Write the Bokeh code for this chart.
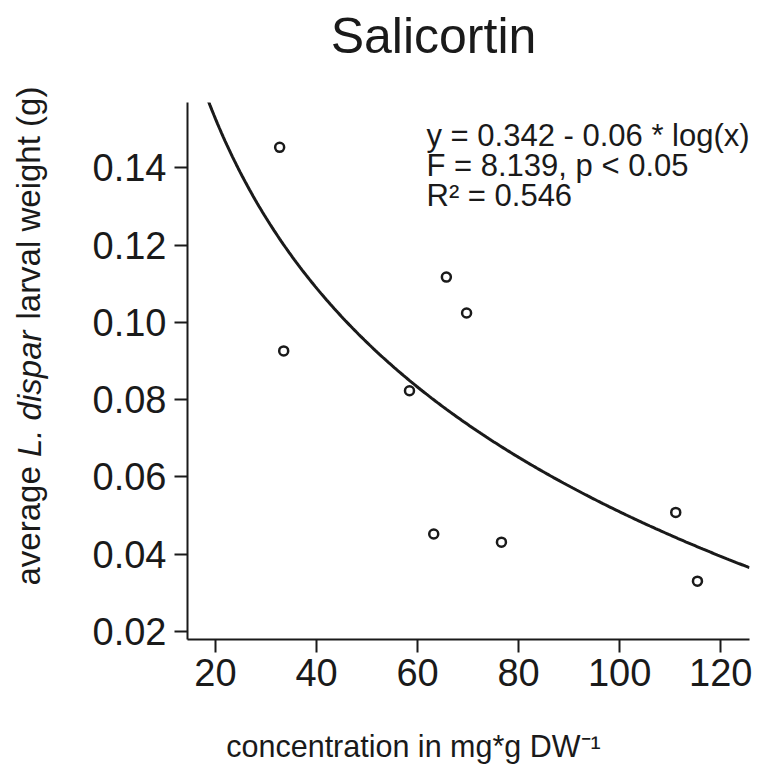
import numpy as np
from bokeh.plotting import figure
from bokeh.models import Range1d, FixedTicker, NumeralTickFormatter, Label, ColumnDataSource
from bokeh.embed import file_html
from bokeh.resources import INLINE

# ---- data ----
conc = [32.7, 33.5, 58.4, 63.2, 65.7, 69.7, 76.6, 111.1, 115.4]
weight = [0.1453, 0.0926, 0.0823, 0.0452, 0.1117, 0.1024, 0.0431, 0.0508, 0.0330]
x_ticks = [20, 40, 60, 80, 100, 120]
y_ticks = [0.02, 0.04, 0.06, 0.08, 0.10, 0.12, 0.14]

# fitted model y = a - b*log(x) (printed rounded as 0.342 - 0.06*log(x))
fit_a = 0.342
fit_b = 0.0632

title_text = "Salicortin"
eq_lines = ["y = 0.342 - 0.06 * log(x)", "F = 8.139, p < 0.05", "R\u00b2 = 0.546"]
xlabel_text = "concentration in mg*g DW\u207b\u00b9"
ylabel_normal = "average" + "\u00a0" * 16 + "larval weight (g)"
ylabel_italic = "L. dispar"

FONT = "Liberation Sans"
INK = "#1a1a1a"

x0, x1 = 14.46, 125.7
y0, y1 = 0.0179, 0.1569

FRAME_L, FRAME_T, FRAME_B = 187, 102, 639

p = figure(width=757, height=778, output_backend="svg", toolbar_location=None,
           x_range=Range1d(x0, x1), y_range=Range1d(y0, y1),
           min_border_left=FRAME_L, min_border_right=8, min_border_top=FRAME_T,
           min_border_bottom=778 - FRAME_B)
p.outline_line_color = None
p.xgrid.visible = False
p.ygrid.visible = False
p.background_fill_color = "white"
p.border_fill_color = "white"

for ax in (p.xaxis[0], p.yaxis[0]):
    ax.axis_line_width = 2
    ax.axis_line_color = INK
    ax.major_tick_line_width = 2
    ax.major_tick_line_color = INK
    ax.major_tick_out = 13
    ax.major_tick_in = 0
    ax.minor_tick_line_color = None
    ax.major_label_text_font = FONT
    ax.major_label_text_font_size = "38px"
    ax.major_label_text_color = INK
    ax.axis_label = None

p.xaxis.ticker = FixedTicker(ticks=x_ticks)
p.yaxis.ticker = FixedTicker(ticks=y_ticks)
p.yaxis.formatter = NumeralTickFormatter(format="0.00")
p.xaxis.major_label_standoff = 6
p.yaxis.major_label_standoff = 8

# fitted curve
xs = np.linspace(x0, x1, 300)
ys = fit_a - fit_b * np.log(xs)
p.line(xs, ys, line_color=INK, line_width=3)

# observations
src = ColumnDataSource(dict(x=conc, y=weight))
p.scatter("x", "y", source=src, marker="circle", size=9, fill_color="white",
          line_color=INK, line_width=2.5)

# equation block
for i, t in enumerate(eq_lines):
    p.add_layout(Label(x=239, y=504 - 30 * i, x_units="screen", y_units="screen", text=t,
                       text_font=FONT, text_font_size="31px", text_color=INK,
                       text_align="left", text_baseline="alphabetic"))

# title in the top panel
p.add_layout(Label(x=433 - FRAME_L, y=67, x_units="screen", y_units="screen",
                   text=title_text, text_font=FONT, text_font_size="50px", text_color=INK,
                   text_align="center", text_baseline="alphabetic"), "above")

# y label (rotated): normal runs in one label, italic run in a second one
ysz = 33
YL_X = 30
YL_BOTTOM = 585
ital_start = YL_BOTTOM - (3.613 + 0.278) * ysz

def ylab(text, style, x, y):
    return Label(x=x, y=y, x_units="screen", y_units="screen", text=text,
                 angle=np.pi / 2, text_font=FONT, text_font_size=f"{ysz}px",
                 text_font_style=style, text_color=INK,
                 text_align="left", text_baseline="alphabetic")

PANEL_W = 38
axis_w = 95
p1_left = FRAME_L - axis_w - PANEL_W
p2_left = p1_left - PANEL_W
p.add_layout(ylab(ylabel_normal, "normal", YL_X - p1_left, FRAME_B - YL_BOTTOM), "left")
p.add_layout(ylab(ylabel_italic, "italic", YL_X - p2_left, FRAME_B - ital_start), "left")

# x label in the bottom panel
XL_H = 35
axis_h = 63
xl_panel_bottom = FRAME_B + axis_h + XL_H
p.add_layout(Label(x=413 - FRAME_L, y=xl_panel_bottom - 760, x_units="screen", y_units="screen",
                   text=xlabel_text, text_font=FONT, text_font_size="30.5px", text_color=INK,
                   text_align="center", text_baseline="alphabetic"), "below")

open("out.html", "w").write(file_html(p, INLINE))
